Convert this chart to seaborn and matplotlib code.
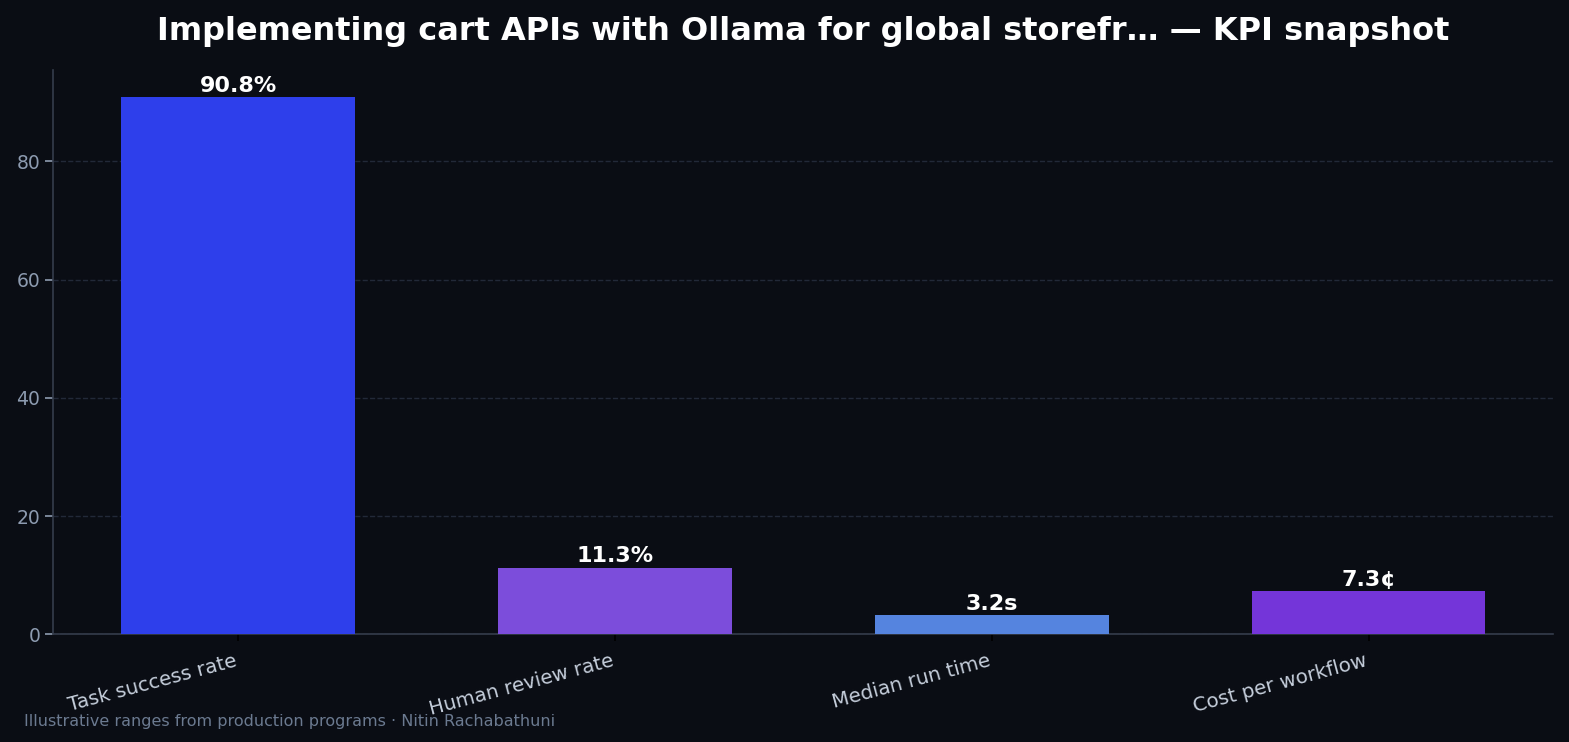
import matplotlib
matplotlib.use("Agg")
import matplotlib.pyplot as plt
import matplotlib.transforms as mtransforms
import seaborn as sns
import pandas as pd

metrics = ["Task success rate", "Human review rate", "Median run time", "Cost per workflow"]
values = [90.8, 11.3, 3.2, 7.3]
labels = ["90.8%", "11.3%", "3.2s", "7.3¢"]
colors = ["#2e3feb", "#7c4ddb", "#5584df", "#7435d9"]

bg = "#0a0d14"
sns.set_theme(style="dark")
plt.rcParams["font.family"] = ["DejaVu Sans"]

df = pd.DataFrame({"metric": metrics, "value": values})

fig, ax = plt.subplots(figsize=(15.69, 7.42), dpi=100)
fig.patch.set_facecolor(bg)
ax.set_facecolor(bg)

sns.barplot(data=df, x="metric", y="value", hue="metric", palette=colors,
            width=0.62, saturation=1, legend=False, ax=ax, zorder=3,
            linewidth=0, edgecolor="none")

# value labels on top of bars
for i, (v, lab) in enumerate(zip(values, labels)):
    ax.text(i, v + 0.2, lab, ha="center", va="bottom", color="white",
            fontsize=16, fontweight="bold", zorder=4)

ax.set_ylim(0, max(values) * 1.05)
ax.set_xlim(-0.49, 3.49)
ax.yaxis.grid(True, linestyle="--", color="#222938", linewidth=1, zorder=0)
ax.xaxis.grid(False)
ax.set_xlabel("")
ax.set_ylabel("")

for side in ["top", "right"]:
    ax.spines[side].set_visible(False)
for side in ["left", "bottom"]:
    ax.spines[side].set_color("#353d4c")
    ax.spines[side].set_linewidth(1.2)

ax.tick_params(axis="y", colors="#8d9bb0", labelsize=13.5, length=6, width=1.2, left=True)
ax.tick_params(axis="x", colors="#000000", labelcolor="#c5cedb", labelsize=14.3,
               length=5, bottom=True, pad=7)
shift = mtransforms.ScaledTranslation(-4 / 100, 0, fig.dpi_scale_trans)
for t in ax.get_xticklabels():
    t.set_rotation(15)
    t.set_ha("right")
    t.set_rotation_mode("anchor")
    t.set_transform(t.get_transform() + shift)

left, right = 0.034, 0.99
fig.subplots_adjust(left=left, right=right, top=0.905, bottom=0.145)

fig.suptitle("Implementing cart APIs with Ollama for global storefr… — KPI snapshot",
             color="white", fontsize=23, fontweight="bold", x=(left + right) / 2, y=0.979)
fig.text(0.015, 0.022, "Illustrative ranges from production programs · Nitin Rachabathuni",
         color="#6b7a90", fontsize=11.5)

fig.savefig("out.png", dpi=100, facecolor=bg)
